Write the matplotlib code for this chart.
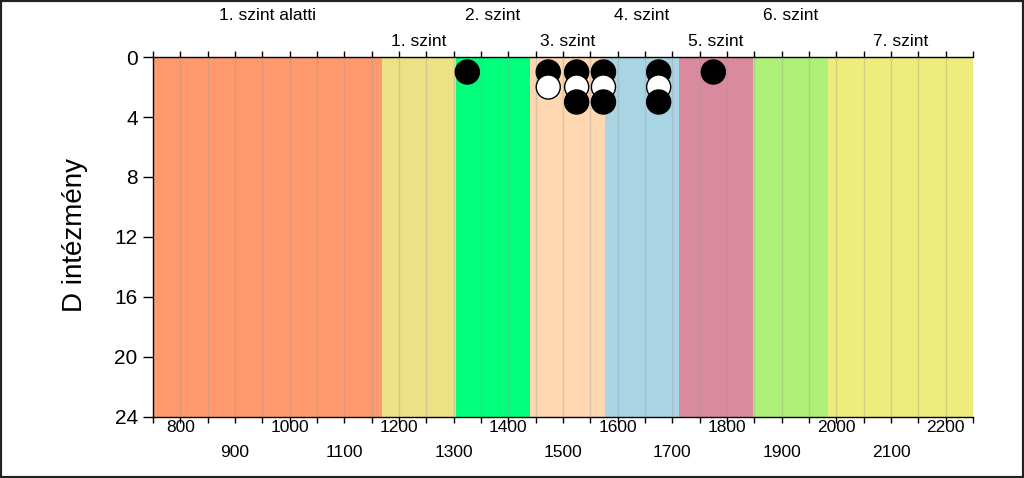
import matplotlib
matplotlib.use("Agg")
import matplotlib.pyplot as plt
from matplotlib.patches import Rectangle
import numpy as np

plt.rcParams['font.family'] = ['Liberation Sans', 'DejaVu Sans']

# ---- data ----
level_names = ["1. szint alatti", "1. szint", "2. szint", "3. szint",
               "4. szint", "5. szint", "6. szint", "7. szint"]
level_bounds = [750, 1168, 1304, 1440, 1576, 1712, 1848, 1984, 2250]
level_colors = ["#FF9A6E", "#EDE185", "#00FF7A", "#FFD7B0",
                "#A9D4E4", "#D98A9E", "#AEF078", "#EEEC7C"]

point_x = [1325, 1473, 1473, 1525, 1525, 1525, 1574, 1574, 1574,
           1675, 1675, 1675, 1775]
point_y = [1, 1, 2, 1, 2, 3, 1, 2, 3, 1, 2, 3, 1]
point_fill = ["black", "black", "white", "black", "white", "black",
              "black", "white", "black", "black", "white", "black", "black"]

x_major = list(range(800, 2201, 100))
x_minor = list(range(750, 2251, 50))
y_ticks = [0, 4, 8, 12, 16, 20, 24]
y_label = "D intézmény"

# ---- figure ----
fig = plt.figure(figsize=(10.24, 4.78), dpi=100)
ax = fig.add_axes([153/1024, 1-417/478, (973-153)/1024, (417-57)/478])

for i, name in enumerate(level_names):
    ax.axvspan(level_bounds[i], level_bounds[i+1], color=level_colors[i],
               lw=0, zorder=1)
    cx = (level_bounds[i] + level_bounds[i+1]) / 2
    ty = 1.114 if i % 2 == 0 else 1.042
    ax.text(cx, ty, name, transform=ax.get_xaxis_transform(),
            ha='center', va='center', fontsize=12.5)

for xv in x_minor:
    ax.axvline(xv, color='#9a9a9a', alpha=0.35, lw=1.0, zorder=1.5)

ax.scatter(point_x, point_y, s=300, c=point_fill, edgecolors='black',
           linewidths=1, zorder=3, clip_on=False)

ax.set_xlim(750, 2250)
ax.set_ylim(24, 0)

ax.set_xticks(x_major)
ax.set_xticks(x_minor, minor=True)
ax.set_xticklabels([])
for xv in x_major:
    ty = -0.03 if (xv // 100) % 2 == 0 else -0.099
    ax.text(xv, ty, str(xv), transform=ax.get_xaxis_transform(),
            ha='center', va='center', fontsize=12.5)

ax.tick_params(axis='x', which='both', direction='out', length=4,
               width=1, top=True, bottom=True)
ax.set_yticks(y_ticks)
ax.tick_params(axis='y', direction='out', length=7, width=1,
               labelsize=15, pad=4)

for side in ['left', 'top', 'bottom']:
    ax.spines[side].set_linewidth(1)
    ax.spines[side].set_color('black')
ax.spines['right'].set_visible(False)

fig.text(75/1024, 1-235/478, y_label, rotation=90, ha='center',
         va='center', fontsize=20)

fig.patches.append(Rectangle((0, 0), 1, 1, transform=fig.transFigure,
                             fill=False, edgecolor='#222222', lw=3))

fig.savefig("out.png", dpi=100)
